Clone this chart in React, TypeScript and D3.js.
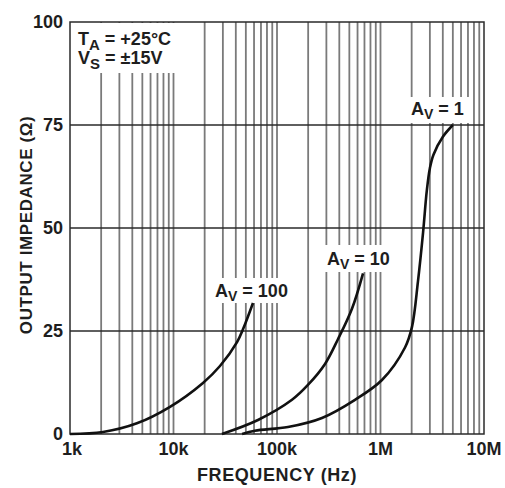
import React from "react";
import * as d3 from "d3";

// Output impedance vs. frequency for three closed-loop gains
const freqAv100 = [1000, 2085, 4430, 9250, 19270, 28130, 41100, 46900, 58600];
const zAv100 = [0, 0.5, 2.6, 6.6, 12.4, 16.5, 22.3, 25.4, 31.8];

const freqAv10 = [29400, 65500, 139600, 199000, 291000, 388000, 530000, 678000];
const zAv10 = [0, 3.4, 8.3, 11.9, 17.0, 23.0, 30.4, 39];

const freqAv1 = [46000, 61200, 127600, 272000, 567000, 1033000, 1725000, 2015000, 2300000, 2580000, 2800000, 3000000, 3250000, 4020000, 5000000];
const zAv1 = [0, 0.8, 1.7, 3.9, 8.3, 13.1, 21, 26, 37, 49, 59, 64.5, 67.8, 72.2, 75];

const xTickValues = [1e3, 1e4, 1e5, 1e6, 1e7];
const xTickLabels = ["1k", "10k", "100k", "1M", "10M"];
const yTickValues = [0, 25, 50, 75, 100];

const W = 505;
const H = 488;
const left = 70;
const right = 484;
const top = 22;
const bottom = 434;

const font = "'Liberation Sans', Arial, Helvetica, sans-serif";
const ink = "#1e1e1e";

export default function App() {
  const x = d3.scaleLog().domain([1e3, 1e7]).range([left, right]);
  const y = d3.scaleLinear().domain([0, 100]).range([bottom, top]);

  const minor: number[] = [];
  for (let e = 3; e < 7; e++) {
    for (let m = 1; m <= 9; m++) {
      const v = m * Math.pow(10, e);
      if (v > 1e3) minor.push(v);
    }
  }

  const line = d3
    .line<[number, number]>()
    .x((d) => x(d[0]))
    .y((d) => y(Math.max(0, d[1])))
    .curve(d3.curveCatmullRom.alpha(0.5));

  const series = [
    { f: freqAv100, z: zAv100 },
    { f: freqAv10, z: zAv10 },
    { f: freqAv1, z: zAv1 },
  ];

  const labels = [
    { sub: "V", text: " = 100", bx: 212, by: 278, bw: 86, bh: 25, tx: 215, ty: 297 },
    { sub: "V", text: " = 10", bx: 323, by: 245, bw: 78, bh: 27, tx: 327, ty: 265 },
    { sub: "V", text: " = 1", bx: 407, by: 97, bw: 66, bh: 26, tx: 411, ty: 115 },
  ];

  return (
    <svg width={W} height={H} style={{ display: "block", position: "absolute", left: 0, top: 0 }}>
      <rect x={0} y={0} width={W} height={H} fill="#fff" />
      {/* vertical log grid */}
      {minor.map((v, i) => (
        <line key={i} x1={x(v)} x2={x(v)} y1={top} y2={bottom} stroke="#7a7a7a" strokeWidth={1.8} />
      ))}
      {/* horizontal grid */}
      {yTickValues.slice(1, 4).map((v) => (
        <line key={v} x1={left} x2={right} y1={y(v)} y2={y(v)} stroke="#2a2a2a" strokeWidth={1.5} />
      ))}
      {/* conditions box */}
      <rect x={left + 1} y={top + 1} width={112} height={50} fill="#fff" />
      {labels.map((l, i) => (
        <rect key={i} x={l.bx} y={l.by} width={l.bw} height={l.bh} fill="#fff" />
      ))}
      {/* frame */}
      <rect x={left} y={top} width={right - left} height={bottom - top} fill="none" stroke="#2a2a2a" strokeWidth={1.5} />
      {/* curves */}
      {series.map((s, i) => (
        <path
          key={i}
          d={line(s.f.map((f, j) => [f, s.z[j]] as [number, number])) || ""}
          fill="none"
          stroke="#111"
          strokeWidth={2.6}
        />
      ))}
      {/* curve labels */}
      {labels.map((l, i) => (
        <text key={i} x={l.tx} y={l.ty} fontFamily={font} fontWeight="bold" fontSize={18} fill={ink}>
          A
          <tspan fontSize={14} dy={4}>{l.sub}</tspan>
          <tspan dy={-4}>{l.text}</tspan>
        </text>
      ))}
      {/* conditions */}
      <text x={78} y={45} fontFamily={font} fontWeight="bold" fontSize={18} fill={ink}>
        T<tspan fontSize={15} dy={5}>A</tspan>
        <tspan dy={-5}> = +25°C</tspan>
      </text>
      <text x={78} y={64} fontFamily={font} fontWeight="bold" fontSize={18} fill={ink}>
        V<tspan fontSize={15} dy={5}>S</tspan>
        <tspan dy={-5}> = ±15V</tspan>
      </text>
      {/* y tick labels */}
      {yTickValues.map((v) => (
        <text key={v} x={63} y={y(v)} dy="0.35em" textAnchor="end" fontFamily={font} fontWeight="bold" fontSize={18} fill={ink}>
          {v}
        </text>
      ))}
      {/* x tick labels */}
      {xTickValues.map((v, i) => (
        <text key={v} x={x(v) + (i === 0 ? 2 : 0)} y={455} textAnchor="middle" fontFamily={font} fontWeight="bold" fontSize={18} fill={ink}>
          {xTickLabels[i]}
        </text>
      ))}
      <text x={277} y={481} textAnchor="middle" fontFamily={font} fontWeight="bold" fontSize={18} letterSpacing={0.6} fill={ink}>
        FREQUENCY (Hz)
      </text>
      <text
        transform={`translate(32, 225) rotate(-90)`}
        textAnchor="middle"
        fontFamily={font}
        fontWeight="bold"
        fontSize={17}
        letterSpacing={0.6}
        fill={ink}
      >
        OUTPUT IMPEDANCE (Ω)
      </text>
    </svg>
  );
}
